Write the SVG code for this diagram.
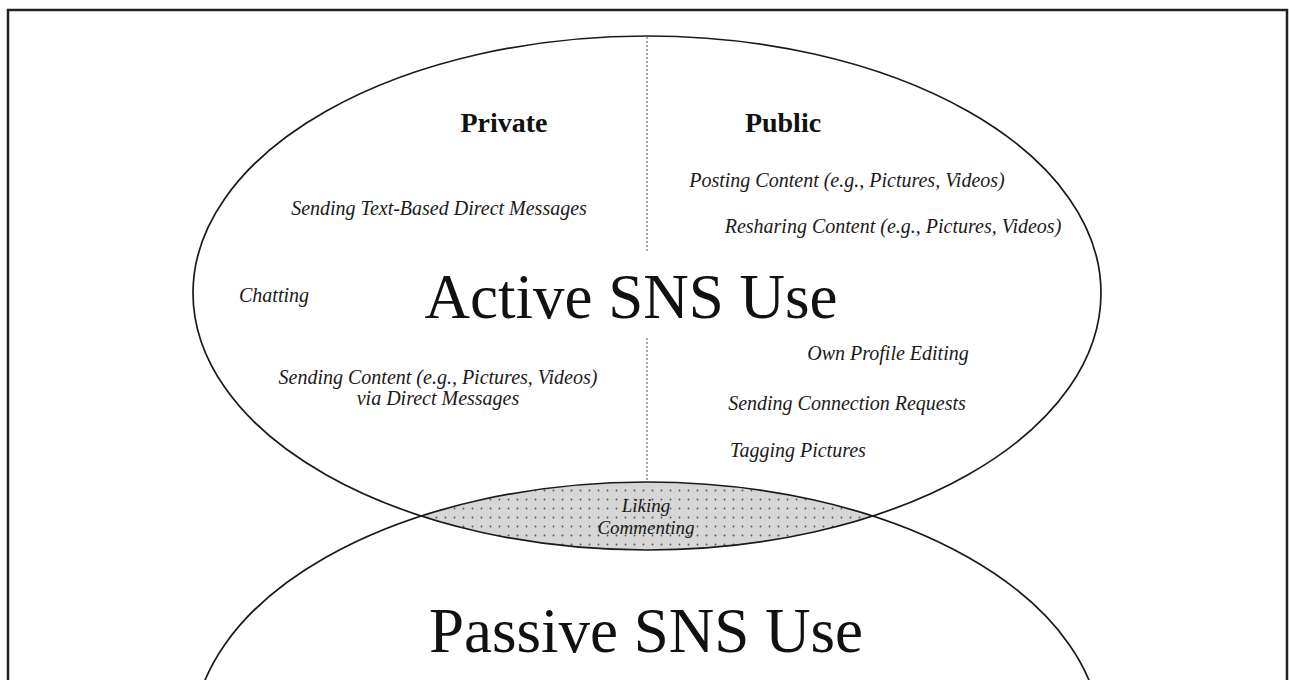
<svg xmlns="http://www.w3.org/2000/svg" width="1289" height="680" viewBox="0 0 1289 680">
<style>
.ell{fill:none;stroke:#1a1a1a;stroke-width:1.7}
.it{font-family:"Liberation Serif",serif;font-style:italic;font-size:20px;fill:#1a1a1a;text-anchor:middle}
.hd{font-family:"Liberation Serif",serif;font-weight:bold;font-size:28px;fill:#111;text-anchor:middle}
.big{font-family:"Liberation Serif",serif;font-size:63px;fill:#111;text-anchor:middle}
.div{stroke:#777;stroke-width:1.3;stroke-dasharray:2 2}
</style>
<defs>
<pattern id="dots" width="9" height="9" patternUnits="userSpaceOnUse">
<rect width="9" height="9" fill="#d6d6d6"/>
<circle cx="4.5" cy="4.5" r="0.9" fill="#555"/>
</pattern>
<clipPath id="topClip"><ellipse cx="647" cy="293" rx="454" ry="257"/></clipPath>
</defs>
<rect x="0" y="0" width="1289" height="680" fill="#fff"/>
<rect x="8" y="10" width="1279" height="700" fill="none" stroke="#222" stroke-width="2.5"/>
<g id="overlap">
<ellipse cx="647" cy="739" rx="454" ry="257" fill="url(#dots)" clip-path="url(#topClip)"/>
<text class="it" x="646" y="512" style="font-size:19px">Liking</text>
<text class="it" x="646" y="534" style="font-size:19px">Commenting</text>
</g>
<g id="active">
<ellipse class="ell" cx="647" cy="293" rx="454" ry="257"/>
<text class="big" x="631" y="318">Active SNS Use</text>
</g>
<g id="passive">
<ellipse class="ell" cx="647" cy="739" rx="454" ry="257"/>
<text class="big" x="646" y="652">Passive SNS Use</text>
</g>
<g id="divider">
<line class="div" x1="647" y1="37" x2="647" y2="253"/>
<line class="div" x1="647" y1="338" x2="647" y2="482"/>
</g>
<g id="private">
<text class="hd" x="504" y="132">Private</text>
<text class="it" x="439" y="215">Sending Text-Based Direct Messages</text>
<text class="it" x="274" y="302">Chatting</text>
<text class="it" x="438" y="384">Sending Content (e.g., Pictures, Videos)</text>
<text class="it" x="438" y="405">via Direct Messages</text>
</g>
<g id="public">
<text class="hd" x="783" y="132">Public</text>
<text class="it" x="847" y="187">Posting Content (e.g., Pictures, Videos)</text>
<text class="it" x="893" y="233">Resharing Content (e.g., Pictures, Videos)</text>
<text class="it" x="888" y="360">Own Profile Editing</text>
<text class="it" x="847" y="410">Sending Connection Requests</text>
<text class="it" x="798" y="457">Tagging Pictures</text>
</g>
<g id="connectors"></g>
</svg>
